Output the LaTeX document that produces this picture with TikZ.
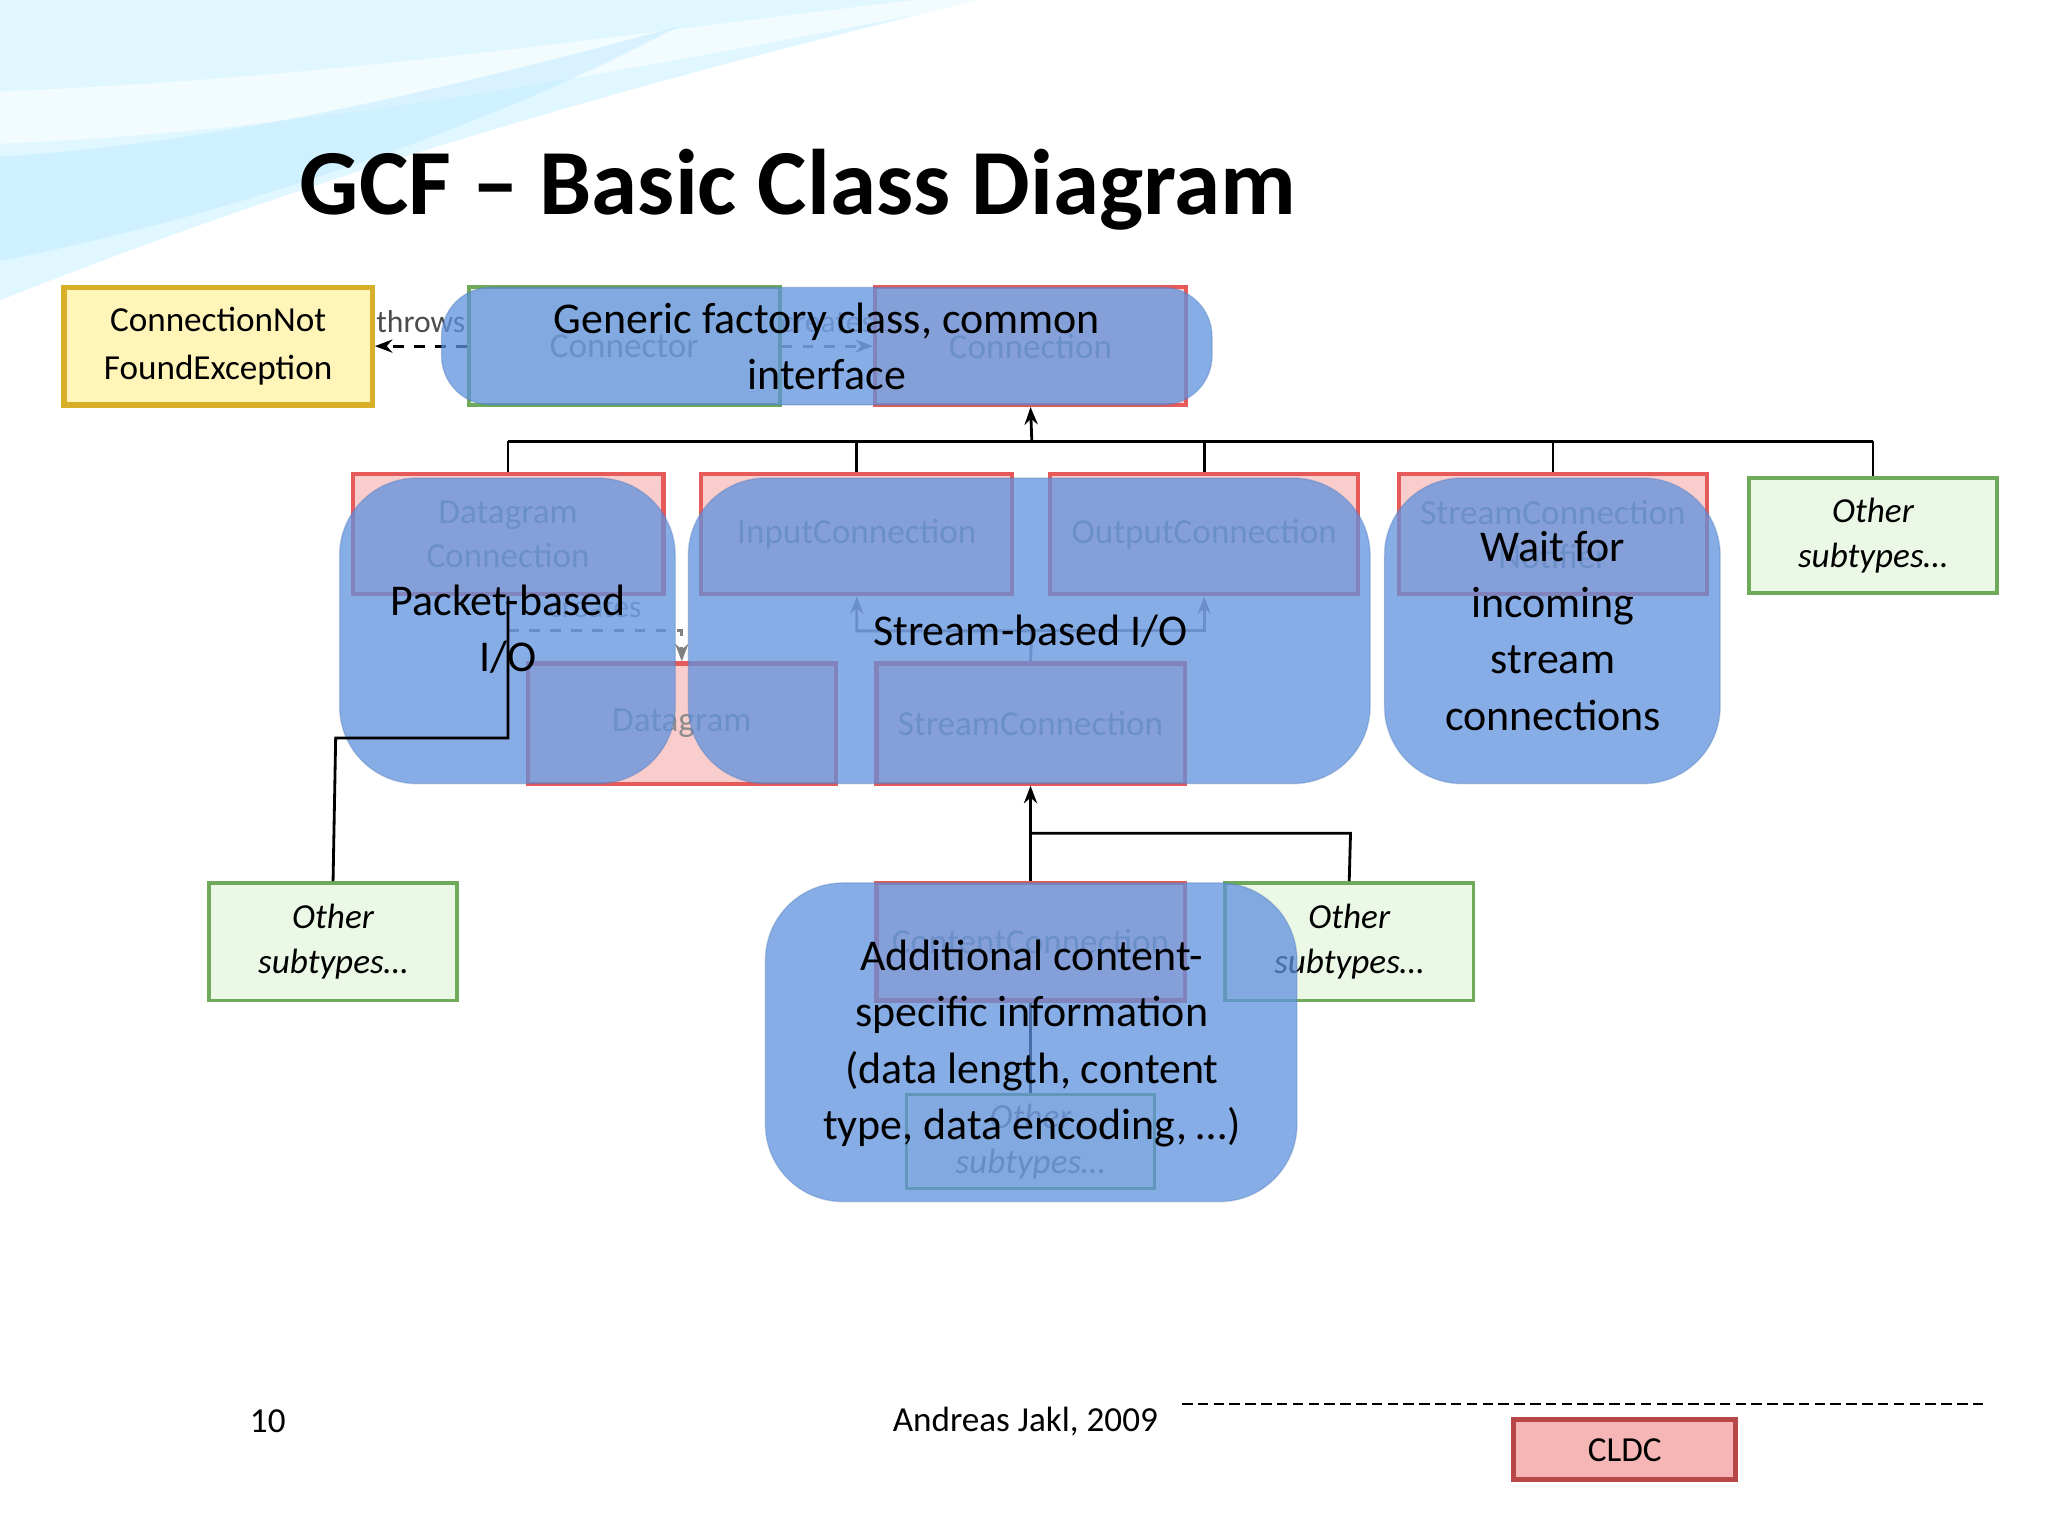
\documentclass[tikz,border=0pt]{standalone}
\usepackage{fontspec}
\setmainfont{Carlito}
\usetikzlibrary{arrows.meta}
\definecolor{ovl}{RGB}{95,145,222}
\definecolor{redb}{RGB}{230,90,90}
\definecolor{redf}{RGB}{250,205,205}
\definecolor{grnb}{RGB}{110,170,90}
\definecolor{grnf}{RGB}{235,248,230}
\definecolor{yelb}{RGB}{215,175,40}
\definecolor{yelf}{RGB}{255,245,185}
\def\u{0.013061cm}
\begin{document}
\begin{tikzpicture}[x=0.013061cm,y=-0.013061cm,
  sz/.style n args={2}{minimum width=#1*\u,minimum height=#2*\u},
  rbox/.style={draw=redb,fill=redf,line width=1.2pt,inner sep=1pt,align=center,font=\fontsize{10}{12.5}\selectfont,text=black!45},
  gbox/.style={draw=grnb,fill=grnf,line width=1pt,inner sep=1pt,align=center,font=\fontsize{10}{13}\selectfont\itshape},
  ov/.style={fill=ovl,fill opacity=0.75,draw=ovl!80!black,draw opacity=0.3,rounded corners=22pt},
  ovt/.style={align=center,font=\fontsize{12.5}{16}\selectfont},
  ln/.style={line width=0.8pt},
  arr/.style={ln,-{Stealth[length=5pt]}}]
\useasboundingbox (0,0) rectangle (1568,1176);
% background swoosh
\fill[blue!25!cyan!20,opacity=0.6] (0,0) -- (750,0) .. controls (500,60) and (250,130) .. (0,230) -- cycle;
\fill[white,opacity=0.6] (0,70) .. controls (250,60) and (450,30) .. (700,0) -- (760,0) .. controls (500,50) and (250,100) .. (0,110) -- cycle;
\fill[blue!30!cyan!25,opacity=0.5] (0,120) .. controls (150,110) and (300,80) .. (520,20) .. controls (350,110) and (150,170) .. (0,200) -- cycle;
\node[font=\fontsize{26.5}{30}\selectfont\bfseries,anchor=west] (title) at (220,145) {GCF – Basic Class Diagram};
% top row
\node[sz={236}{90},draw=yelb,fill=yelf,line width=1.5pt,align=center,font=\fontsize{10}{13.5}\selectfont] (cnfe) at (167,265) {ConnectionNot\\FoundException};
\node[rbox,draw=grnb,fill=grnf,sz={238}{90}] (connector) at (478,265) {Connector};
\node[rbox,sz={238}{90}] (connection) at (789,265) {Connection};
\draw[arr,dashed,black!50] (connector) -- (connection) node[midway,above,font=\fontsize{9}{10}\selectfont,text=black!40]{creates};
\draw[arr,dashed] (connector.west) -- (cnfe.east) node[midway,above,font=\fontsize{9}{10}\selectfont,text=black!70]{throws};
\path[ov,rounded corners=14pt] (338,220) rectangle (928,310);
\node[ovt] (t1) at (633,265) {Generic factory class, common\\interface};
% second row
\node[rbox,sz={238}{92}] (dgc) at (389,409) {Datagram\\Connection};
\node[rbox,sz={238}{92}] (inc) at (656,409) {InputConnection};
\node[rbox,sz={236}{92}] (outc) at (922,409) {OutputConnection};
\node[rbox,sz={236}{92}] (scn) at (1189,409) {StreamConnection\\Notifier};
\node[gbox,sz={190}{88}] (os1) at (1434,410) {Other\\subtypes…};
\coordinate (h0) at (790,338);
\draw[ln] (389,338) -- (1434,338);
\foreach \n/\x in {dgc/389,inc/656,outc/922,scn/1189,os1/1434} \draw[ln] (\x,338) -- (\n.north);
\draw[arr] (h0) -- (connection.south);
% third row
\node[rbox,sz={236}{92}] (dg) at (522,554) {Datagram};
\node[rbox,sz={236}{92}] (sc) at (789,554) {StreamConnection};
\draw[arr,black!45] (sc.north) -- (790,483) -- (656,483) -- (inc.south);
\draw[arr,black!45] (790,483) -- (922,483) -- (outc.south);
\draw[arr,dashed,black!50] (389,483) -- node[above,font=\fontsize{9}{10}\selectfont,text=black!40]{creates} (522,483) -- (dg.north);
\node[gbox,sz={190}{90}] (os2) at (255,721) {Other\\subtypes…};
\node[gbox,sz={190}{90}] (os3) at (1033,721) {Other\\subtypes…};
\node[rbox,sz={236}{90}] (cc) at (789,721) {ContentConnection};
\node[gbox,sz={190}{72},text=black!50] (os4) at (789,874) {Other\\subtypes…};
\draw[ln] (cc) -- (os4);
\draw[arr] (cc.north) -- (sc.south);
\draw[ln] (790,638) -- (1034,638) -- (os3.north);
% blue overlays
\path[ov] (260,366) rectangle (517,600);
\path[ov] (527,366) rectangle (1049,600);
\path[ov] (1060,366) rectangle (1317,600);
\draw[ln] (dgc.south) -- (389,565) -- (257,565) -- (os2.north);
\node[ovt] at (389,482) {Packet-based\\I/O};
\node[ovt] at (789,483) {Stream-based I/O};
\node[ovt] at (1189,483) {Wait for\\incoming\\stream\\connections};
\path[ov] (586,676) rectangle (993,920);
\node[ovt] at (790,799) {Additional content-\\specific information\\(data length, content\\type, data encoding, …)};
% footer
\node[font=\fontsize{10}{12}\selectfont] (pg) at (205,1088) {10};
\node[font=\fontsize{10}{12}\selectfont] (auth) at (785,1088) {Andreas Jakl, 2009};
\draw[line width=0.6pt,dash pattern=on 3pt off 1.5pt] (905,1075) -- (1518,1075);
\node[draw=redb!80!black,fill=redf!80!redb,line width=1.5pt,sz={170}{46},font=\fontsize{10}{12}\selectfont] (cldc) at (1244,1110) {CLDC};
\end{tikzpicture}
\end{document}
